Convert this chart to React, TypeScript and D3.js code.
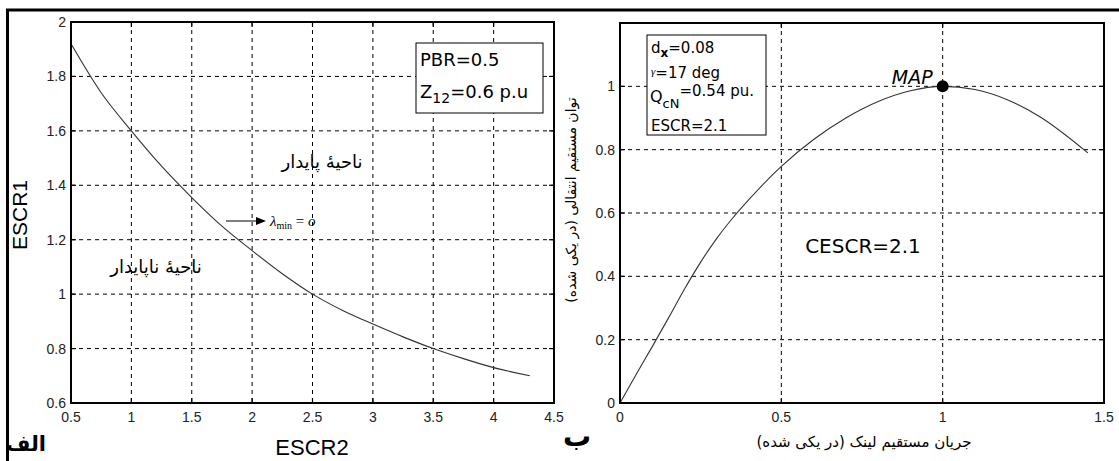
import React from "react";
import * as d3 from "d3";

// Left panel: ESCR1 vs ESCR2 (boundary λmin = 0)
const leftX = [0.5, 0.75, 1.0, 1.25, 1.5, 1.75, 2.0, 2.25, 2.5, 2.75, 3.0, 3.25, 3.5, 3.75, 4.0, 4.3];
const leftY = [1.92, 1.74, 1.6, 1.47, 1.355, 1.25, 1.16, 1.075, 1.0, 0.94, 0.89, 0.843, 0.8, 0.763, 0.73, 0.7];
const leftXTicks = [0.5, 1, 1.5, 2, 2.5, 3, 3.5, 4, 4.5];
const leftYTicks = [0.6, 0.8, 1, 1.2, 1.4, 1.6, 1.8, 2];

// Right panel: DC power vs DC current
const rightX = [0, 0.05, 0.1, 0.15, 0.2, 0.25, 0.3, 0.35, 0.4, 0.5, 0.6, 0.7, 0.8, 0.9, 1.0, 1.1, 1.2, 1.3, 1.45];
const rightY = [0, 0.09, 0.178, 0.268, 0.36, 0.445, 0.52, 0.585, 0.643, 0.747, 0.832, 0.9, 0.952, 0.986, 1.0, 0.99, 0.958, 0.905, 0.79];
const rightXTicks = [0, 0.5, 1, 1.5];
const rightYTicks = [0, 0.2, 0.4, 0.6, 0.8, 1];
const mapPoint = [1.0, 1.0];

const TICK_FONT = "'Liberation Sans', Arial, sans-serif";
const AR_FONT = "'DejaVu Sans', sans-serif";
const BOX_FONT = "'DejaVu Sans', sans-serif";

function Panel({ x, y, xTicks, yTicks, xFmt, yFmt, data, left, right, top, bottom }: any) {
  const gridX = xTicks.filter((t: number) => t !== x.domain()[0] && t !== x.domain()[1]);
  const gridY = yTicks.filter((t: number) => t !== y.domain()[0] && t !== y.domain()[1]);
  const line = d3
    .line<[number, number]>()
    .x((d) => x(d[0]))
    .y((d) => y(d[1]))
    .curve(d3.curveMonotoneX);
  return (
    <g>
      {gridX.map((t: number) => (
        <line key={"gx" + t} x1={x(t)} x2={x(t)} y1={top} y2={bottom} stroke="#000" strokeWidth={1} strokeDasharray="4,4" />
      ))}
      {gridY.map((t: number) => (
        <line key={"gy" + t} x1={left} x2={right} y1={y(t)} y2={y(t)} stroke="#000" strokeWidth={1} strokeDasharray="4,4" />
      ))}
      {xTicks.map((t: number) => (
        <g key={"tx" + t}>
          <line x1={x(t)} x2={x(t)} y1={bottom} y2={bottom - 5} stroke="#000" strokeWidth={1.2} />
          <line x1={x(t)} x2={x(t)} y1={top} y2={top + 5} stroke="#000" strokeWidth={1.2} />
          <text x={x(t)} y={bottom + 19} textAnchor="middle" fontFamily={TICK_FONT} fontSize={14} fill="#222">
            {xFmt(t)}
          </text>
        </g>
      ))}
      {yTicks.map((t: number) => (
        <g key={"ty" + t}>
          <line x1={left} x2={left + 5} y1={y(t)} y2={y(t)} stroke="#000" strokeWidth={1.2} />
          <line x1={right} x2={right - 5} y1={y(t)} y2={y(t)} stroke="#000" strokeWidth={1.2} />
          <text x={left - 5} y={y(t) + 5} textAnchor="end" fontFamily={TICK_FONT} fontSize={14} fill="#222">
            {yFmt(t)}
          </text>
        </g>
      ))}
      <path d={line(data) || ""} fill="none" stroke="#333" strokeWidth={1.1} />
      <rect x={left} y={top} width={right - left} height={bottom - top} fill="none" stroke="#000" strokeWidth={2} />
    </g>
  );
}

export default function App() {
  const W = 1119;
  const H = 461;

  // Left panel geometry
  const lL = 71, lR = 554, lT = 22, lB = 403;
  const xL = d3.scaleLinear().domain([0.5, 4.5]).range([lL, lR]);
  const yL = d3.scaleLinear().domain([0.6, 2]).range([lB, lT]);
  const leftData = leftX.map((v, i) => [v, leftY[i]] as [number, number]);

  // Right panel geometry
  const rL = 620, rR = 1104, rT = 23, rB = 403;
  const xR = d3.scaleLinear().domain([0, 1.5]).range([rL, rR]);
  const yR = d3.scaleLinear().domain([0, 1.2]).range([rB, rT]);
  const rightData = rightX.map((v, i) => [v, rightY[i]] as [number, number]);

  const fmt = (t: number) => String(t);

  return (
    <svg width={W} height={H} style={{ position: "absolute", left: 0, top: 0, background: "#fff" }}>
      <rect x={0} y={0} width={W} height={H} fill="#fff" />
      {/* outer frame */}
      <line x1={6} x2={W} y1={10} y2={10} stroke="#000" strokeWidth={3} />
      <line x1={7.5} x2={7.5} y1={9} y2={H} stroke="#000" strokeWidth={3} />

      <Panel x={xL} y={yL} xTicks={leftXTicks} yTicks={leftYTicks} xFmt={fmt} yFmt={fmt} data={leftData} left={lL} right={lR} top={lT} bottom={lB} />
      <Panel x={xR} y={yR} xTicks={rightXTicks} yTicks={rightYTicks} xFmt={fmt} yFmt={fmt} data={rightData} left={rL} right={rR} top={rT} bottom={rB} />

      {/* Left panel annotations */}
      <rect x={416} y={43} width={127} height={70} fill="#fff" stroke="#000" strokeWidth={1} />
      <text x={420} y={66} fontFamily={BOX_FONT} fontSize={18} fill="#000">PBR=0.5</text>
      <text x={420} y={98} fontFamily={BOX_FONT} fontSize={18} fill="#000">
        Z<tspan fontSize={14} dy={5}>12</tspan><tspan dy={-5}>=0.6 p.u</tspan>
      </text>
      <text x={322} y={168} textAnchor="middle" fontFamily={AR_FONT} fontSize={18} fill="#000">ناحیهٔ پایدار</text>
      <text x={156} y={273} textAnchor="middle" fontFamily={AR_FONT} fontSize={18} fill="#000">ناحیهٔ ناپایدار</text>
      <line x1={226} x2={258} y1={221} y2={221} stroke="#000" strokeWidth={1} />
      <path d="M256,217 L266,221 L256,225 Z" fill="#000" />
      <text x={270} y={226} fontFamily="'Liberation Serif', serif" fontSize={15} fill="#000">
        <tspan fontStyle="italic">λ</tspan>
        <tspan fontSize={10} dy={3}>min</tspan>
        <tspan dy={-3}> = </tspan>
        <tspan fontStyle="italic">o</tspan>
      </text>
      <text transform="translate(27,215) rotate(-90)" textAnchor="middle" fontFamily={TICK_FONT} fontSize={21} fill="#000">ESCR1</text>
      <text x={312} y={455} textAnchor="middle" fontFamily={TICK_FONT} fontSize={22} fill="#000">ESCR2</text>
      <text x={26} y={451} textAnchor="middle" fontFamily={AR_FONT} fontSize={21} fontWeight="bold" fill="#000">الف</text>

      {/* Right panel annotations */}
      <rect x={647} y={35} width={119} height={100} fill="#fff" stroke="#000" strokeWidth={1} />
      <text x={651} y={53} fontFamily={BOX_FONT} fontSize={15} fill="#000">
        d<tspan fontSize={12} dy={4} fontWeight="bold">x</tspan><tspan dy={-4}>=0.08</tspan>
      </text>
      <text x={651} y={78} fontFamily={BOX_FONT} fontSize={15} fill="#000">
        <tspan fontFamily="'Liberation Serif', serif" fontStyle="italic" fontSize={11} dy={-3}>γ</tspan><tspan dy={3}>=17 deg</tspan>
      </text>
      <text x={650} y={102} fontFamily={BOX_FONT} fontSize={16} fill="#000">
        Q<tspan fontSize={13} dy={6}>cN</tspan><tspan fontSize={15} dy={-12}>=0.54 pu.</tspan>
      </text>
      <text x={651} y={131} fontFamily={BOX_FONT} fontSize={15} fill="#000">ESCR=2.1</text>
      <circle cx={xR(mapPoint[0])} cy={yR(mapPoint[1])} r={6} fill="#000" />
      <text x={xR(mapPoint[0]) - 10} y={yR(mapPoint[1]) - 2} textAnchor="end" fontFamily={BOX_FONT} fontStyle="italic" fontSize={19} fill="#000">MAP</text>
      <text x={863} y={253} textAnchor="middle" fontFamily={BOX_FONT} fontSize={20} fill="#000">CESCR=2.1</text>
      <text transform="translate(576,200) rotate(-90)" textAnchor="middle" fontFamily={AR_FONT} fontSize={14} fill="#000">توان مستقیم انتقالی (در یکی شده)</text>
      <text x={864} y={447} textAnchor="middle" fontFamily={AR_FONT} fontSize={15} fill="#000">جریان مستقیم لینک (در یکی شده)</text>
      <text x={577} y={446} textAnchor="middle" fontFamily={AR_FONT} fontSize={28} fontWeight="bold" fill="#000">ب</text>
    </svg>
  );
}
